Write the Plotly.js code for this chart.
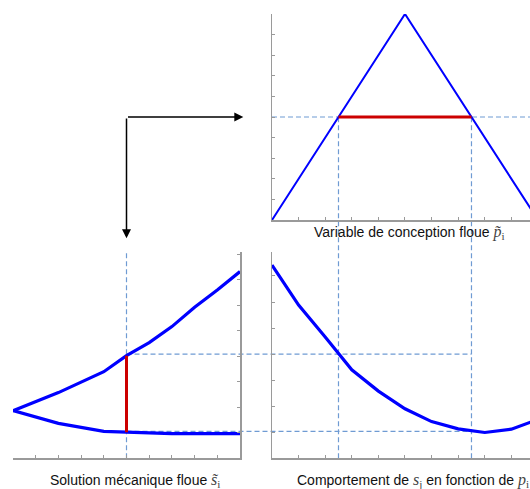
<!DOCTYPE html>
<html>
<head>
<meta charset="utf-8">
<script src="https://cdn.plot.ly/plotly-3.0.1.min.js"></script>
<style>html,body{margin:0;padding:0;background:#fff;}#chart{width:530px;height:489px;}</style>
</head>
<body>
<div id="chart"></div>
<script>
// ---- data ----
// top panel: fuzzy design variable (triangular membership)
var pTri = [0, 5, 10];
var muTri = [0, 10, 0];
// alpha-cut in top panel
var cutMu = 5;
var cutP = [2.5, 7.5];
// bottom-right: behaviour of s_j as a function of p_i
var pGrid = [0, 1, 2, 3, 4, 5, 6, 7, 8, 9, 10];
var sOfP = [7.42, 5.88, 4.66, 3.40, 2.58, 1.90, 1.41, 1.13, 0.99, 1.12, 1.49];
// bottom-left: fuzzy mechanical solution (upper / lower bounds)
var levelX = [0, 2, 4, 5, 6, 7, 8, 9, 10];
var sUpper = [1.87, 2.58, 3.40, 4.03, 4.54, 5.17, 5.93, 6.61, 7.33];
var sLower = [1.87, 1.37, 1.06, 1.02, 0.98, 0.97, 0.97, 0.97, 0.97];
// cut in bottom-left panel
var cutLevel = 5;
var cutS = [1.02, 4.03];
// levels carried over to the bottom-right panel
var cutSRight = [1.03, 4.0];

var W = 530, H = 489;
var BLUE = '#0000ff', RED = '#cc0000', DASH = '#6f9bd3', AX = '#9a9a9a';

function axBase(extra) {
  var o = {showline: true, linecolor: AX, linewidth: 1.5, ticks: 'inside', ticklen: 3,
    tickcolor: AX, tickwidth: 1, showgrid: false, zeroline: false, showticklabels: false,
    tick0: 0, dtick: 1, fixedrange: true};
  for (var k in extra) o[k] = extra[k];
  return o;
}

var xaxis  = axBase({domain: [13 / W, 240 / W], range: [0, 10], anchor: 'y'});
var yaxis  = axBase({domain: [1 - 458.3 / H, 1 - 251.7 / H], range: [0, 8.11], anchor: 'x', side: 'right'});
var xaxis2 = axBase({domain: [272 / W, 1], range: [0, 9.7], anchor: 'y2'});
var yaxis2 = axBase({domain: [1 - 458.3 / H, 1 - 252 / H], range: [0, 7.92], anchor: 'x2'});
var xaxis3 = axBase({domain: [272 / W, 1], range: [0, 9.7], anchor: 'y3'});
var yaxis3 = axBase({domain: [1 - 220 / H, 1 - 14 / H], range: [0, 10], anchor: 'x3'});

function fr(ax, v) { return ax.domain[0] + (v - ax.range[0]) / (ax.range[1] - ax.range[0]) * (ax.domain[1] - ax.domain[0]); }

var traces = [
  {x: pTri, y: muTri, xaxis: 'x3', yaxis: 'y3', mode: 'lines', line: {color: BLUE, width: 2}},
  {x: cutP, y: [cutMu, cutMu], xaxis: 'x3', yaxis: 'y3', mode: 'lines', line: {color: RED, width: 3}},
  {x: pGrid, y: sOfP, xaxis: 'x2', yaxis: 'y2', mode: 'lines', line: {color: BLUE, width: 3.2}},
  {x: levelX, y: sUpper, xaxis: 'x', yaxis: 'y', mode: 'lines', line: {color: BLUE, width: 3.2}},
  {x: levelX, y: sLower, xaxis: 'x', yaxis: 'y', mode: 'lines', line: {color: BLUE, width: 3.2}},
  {x: [cutLevel, cutLevel], y: cutS, xaxis: 'x', yaxis: 'y', mode: 'lines', line: {color: RED, width: 3}}
];

var dash = {color: DASH, width: 1.2, dash: '5px,3px'};
var cutLeftPaper = fr(xaxis, cutLevel);
var shapes = [
  {type: 'line', xref: 'x3', yref: 'y3', x0: 0, x1: 9.7, y0: cutMu, y1: cutMu, line: dash, layer: 'below'},
  {type: 'line', xref: 'x2', yref: 'paper', x0: cutP[0], x1: cutP[0], y0: fr(yaxis2, 0), y1: fr(yaxis3, cutMu), line: dash, layer: 'below'},
  {type: 'line', xref: 'x2', yref: 'paper', x0: cutP[1], x1: cutP[1], y0: fr(yaxis2, 0), y1: fr(yaxis3, cutMu), line: dash, layer: 'below'},
  {type: 'line', xref: 'x', yref: 'y', x0: cutLevel, x1: cutLevel, y0: 0, y1: 8.11, line: dash, layer: 'below'},
  {type: 'line', xref: 'paper', yref: 'y2', x0: cutLeftPaper, x1: fr(xaxis2, cutP[1]), y0: cutSRight[1], y1: cutSRight[1], line: dash, layer: 'below'},
  {type: 'line', xref: 'paper', yref: 'y2', x0: cutLeftPaper, x1: fr(xaxis2, cutP[1]), y0: cutSRight[0], y1: cutSRight[0], line: dash, layer: 'below'}
];

var cornerY = fr(yaxis3, cutMu);
var arrowEndX = 243.3 / W;
var arrowEndY = 1 - 238.3 / H;
var serif = "font-family:'Liberation Serif','Times New Roman',serif;font-size:16px;color:#444";
var tfont = {family: 'Liberation Sans, Arial, sans-serif', size: 14, color: '#111'};
var annotations = [
  {xref: 'paper', yref: 'paper', x: arrowEndX, y: cornerY, text: '', showarrow: true,
   ax: (cutLeftPaper - arrowEndX) * W, ay: 0, arrowhead: 2, arrowsize: 1.2, arrowwidth: 1.5, arrowcolor: '#000', standoff: 0},
  {xref: 'paper', yref: 'paper', x: cutLeftPaper, y: arrowEndY, text: '', showarrow: true,
   ax: 0, ay: (arrowEndY - cornerY) * H, arrowhead: 2, arrowsize: 1.2, arrowwidth: 1.5, arrowcolor: '#000', standoff: 0},
  {xref: 'paper', yref: 'paper', x: 311.7 / W, y: 1 - 232 / H, xanchor: 'left', yanchor: 'middle', showarrow: false, font: tfont,
   text: 'Variable de conception floue <span style="' + serif + '"><i>p\u0303</i><sub>i</sub></span>'},
  {xref: 'paper', yref: 'paper', x: 48.3 / W, y: 1 - 480.7 / H, xanchor: 'left', yanchor: 'middle', showarrow: false, font: tfont,
   text: 'Solution mécanique floue <span style="' + serif + '"><i>s\u0303</i><sub>i</sub></span>'},
  {xref: 'paper', yref: 'paper', x: 295 / W, y: 1 - 480.7 / H, xanchor: 'left', yanchor: 'middle', showarrow: false, font: tfont,
   text: 'Comportement de <span style="' + serif + '"><i>s</i><sub>j</sub></span> en fonction de <span style="' + serif + '"><i>p</i><sub>i</sub></span>'}
];

var layout = {
  width: W, height: H, margin: {l: 0, r: 0, t: 0, b: 0, pad: 0},
  paper_bgcolor: '#fff', plot_bgcolor: 'rgba(0,0,0,0)', showlegend: false,
  xaxis: xaxis, yaxis: yaxis, xaxis2: xaxis2, yaxis2: yaxis2, xaxis3: xaxis3, yaxis3: yaxis3,
  shapes: shapes, annotations: annotations
};

Plotly.newPlot('chart', traces, layout, {staticPlot: true, displayModeBar: false});
</script>
</body>
</html>
